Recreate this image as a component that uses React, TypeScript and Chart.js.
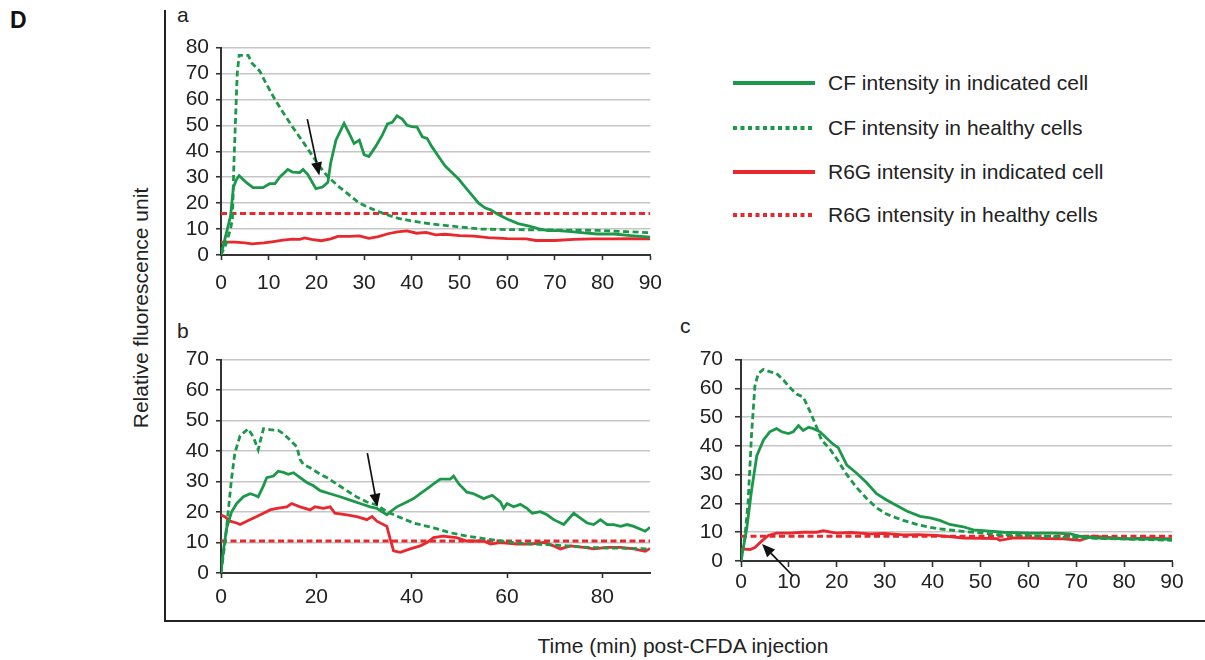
import React, { useEffect, useRef } from "react";
import { Chart, registerables } from "chart.js";

Chart.register(...registerables);

const FONT = "'Liberation Sans', Arial, Helvetica, sans-serif";
const GREEN = "#1c984a";
const RED = "#e8282e";
const INK = "#222222";

// ---------- Panel a ----------
const aCfCellT = [0, 1.2, 2, 2.6, 3.2, 3.8, 5.3, 6.7, 8.8, 10.2, 11.3, 12.3, 14, 15, 16.5, 17.2, 18.2, 19.9, 21.3, 22.4, 23, 24.1, 25.8, 26.9, 27.9, 29, 30, 31, 32.4, 33.8, 34.9, 35.9, 36.9, 38, 39, 40, 41.1, 42.2, 43.2, 44.2, 45.6, 47, 48.4, 49.8, 51.2, 52.6, 54, 55.4, 56.4, 58.1, 60.2, 62.3, 64.4, 66.5, 68.5, 70.6, 73.4, 76.1, 78.9, 82.4, 85.9, 90];
const aCfCellV = [0, 9, 15, 26, 29, 30.6, 28, 26, 26, 27.5, 27.5, 30, 33, 32, 31.8, 33, 31, 25.6, 26.2, 28, 35.6, 44.3, 50.8, 46.8, 43, 44.3, 38.7, 38, 41.8, 46.2, 50.6, 51.2, 53.7, 52.4, 50, 49.5, 49.3, 45.6, 45, 41.8, 38, 34.3, 31.8, 29.3, 26.2, 23.1, 20, 18.1, 17.5, 15.6, 13.7, 12.1, 11.2, 10.2, 9.4, 9.4, 9, 8.5, 8.1, 8.1, 7.5, 6.9];
const aCfHealthyT = [0, 1, 2, 2.4, 2.7, 3, 3.4, 3.8, 5.7, 6.5, 8.1, 9.5, 11.3, 13, 15, 17.8, 20.6, 22.5, 24.8, 27, 29, 32, 34.5, 37, 40, 44, 49, 54.6, 60, 66.5, 72, 79, 85, 90];
const aCfHealthyV = [0, 4, 10, 14, 35, 50, 70, 77, 77, 74, 71, 66, 60, 55, 49.4, 42, 34.4, 30, 26.2, 23, 20, 17.5, 15.7, 14.2, 13.1, 12, 11, 10, 9.8, 9.7, 9.6, 9.5, 9, 8.6];
const aR6gCellT = [0, 3, 5, 6.5, 9, 11, 13, 15, 16.5, 17.5, 19, 21, 23, 24.5, 27, 29, 31, 33, 35, 37, 39, 41, 43, 45, 47, 50, 53, 56, 60, 64, 66, 70, 74, 78, 82, 86, 90];
const aR6gCellV = [5, 5, 4.7, 4.3, 4.7, 5.2, 5.7, 6.1, 6, 6.6, 6, 5.5, 6.2, 7.2, 7.2, 7.4, 6.4, 7.1, 8.2, 8.9, 9.3, 8.4, 8.7, 7.8, 8, 7.5, 7.3, 6.7, 6.3, 6.2, 5.6, 5.6, 6, 6.2, 6.2, 6.3, 6.2];
const aR6gHealthyT = [0, 90];
const aR6gHealthyV = [16, 16];

// ---------- Panel b ----------
const bCfCellT = [0, 0.5, 1.2, 2.2, 3.3, 4.7, 6.1, 7.1, 7.8, 8.9, 9.6, 11, 12, 13.1, 14.1, 15.2, 16.6, 18, 19.4, 20.8, 22.9, 25, 27.1, 29.2, 31.3, 32.7, 33.8, 34.8, 35.5, 36.9, 39, 40.4, 41.8, 43.2, 44.6, 46, 48.1, 48.8, 49.9, 51.6, 53, 55.1, 56.9, 58.6, 59.3, 60, 61.4, 62.8, 64.2, 65.3, 67, 68.4, 69.8, 71.9, 74, 75.4, 76.8, 78.2, 79.6, 81, 82.4, 83.8, 85.2, 86.6, 89, 90];
const bCfCellV = [0, 7.3, 14.8, 20, 22.8, 25, 26, 25.5, 25, 28.6, 31.3, 31.8, 33.4, 33, 32.4, 32.9, 31.3, 29.7, 28.6, 27, 26, 25, 23.9, 22.8, 21.7, 21.2, 20.1, 19.1, 20.1, 21.7, 23.3, 24.4, 26, 27.6, 29.2, 30.8, 30.8, 31.8, 29.2, 26.5, 26, 24.4, 25.5, 23.3, 21.2, 22.8, 21.7, 22.5, 21.2, 19.6, 20.1, 19.1, 17.5, 15.9, 19.6, 18, 16.4, 15.9, 17.5, 15.9, 15.9, 15.3, 15.9, 15.3, 13.7, 15];
const bCfHealthyT = [0, 0.8, 1.5, 2.2, 2.9, 4, 5.7, 6.8, 7.8, 8.9, 10.3, 12, 13.1, 14.5, 15.9, 16.6, 17.3, 18.7, 20.8, 22.2, 24.3, 26.4, 28.5, 30.6, 32.7, 34.8, 37.6, 40.4, 44.6, 48.1, 51.6, 55.1, 58.6, 62.1, 65.6, 69.1, 72.6, 76.8, 81, 85.2, 90];
const bCfHealthyV = [0, 9.5, 20, 30.8, 39.3, 45, 47.3, 44.6, 40.4, 47.3, 47, 46.8, 45.7, 43.6, 41.4, 37.2, 35.6, 34.5, 32.4, 31.3, 29.2, 27, 24.9, 23.3, 22.3, 20.1, 18.2, 16.4, 14.8, 13.2, 12.1, 11.3, 10.5, 9.8, 9.5, 9.2, 8.9, 8.4, 8.2, 8.1, 7.9];
const bR6gCellT = [0, 0.8, 1.9, 3.3, 4, 5.4, 7.5, 8.9, 10.3, 11.7, 13.8, 14.8, 16.6, 18.7, 19.7, 21.5, 22.9, 23.9, 26.4, 28.5, 30.6, 31.7, 32.7, 34.8, 35.5, 36.2, 37.6, 39.7, 41.8, 43.2, 44.6, 46.6, 49.4, 51.6, 55.1, 56.5, 58.6, 62.1, 64.9, 67.7, 69.8, 71.2, 73.3, 76.1, 78.2, 81, 83.8, 86.6, 89, 90];
const bR6gCellV = [19, 18.5, 17, 16.4, 15.9, 17, 18.5, 19.6, 20.7, 21.2, 21.7, 22.8, 21.7, 20.7, 21.7, 21.2, 21.7, 19.6, 19.1, 18.5, 17.5, 18.5, 17, 15.3, 11.1, 7.3, 6.8, 7.9, 8.9, 10, 11.6, 12.1, 11.6, 10.5, 10.5, 9.5, 10, 9.5, 9.5, 10, 8.9, 7.9, 8.9, 8.4, 7.9, 8.4, 8.4, 7.9, 7.1, 8.1];
const bR6gHealthyT = [0, 90];
const bR6gHealthyV = [10.5, 10.5];

// ---------- Panel c ----------
const cCfCellT = [0, 1.2, 2.2, 3.3, 4.7, 6, 7.4, 8.5, 9.9, 10.9, 12, 13, 14.1, 15.1, 16.5, 17.9, 19.3, 20.3, 22.1, 24.1, 26.2, 28.3, 30.4, 32.5, 34.6, 37.4, 39.5, 41.5, 43.6, 46.4, 48.5, 51.3, 54.8, 60.4, 65.3, 68.8, 70.8, 74.3, 81.2, 90];
const cCfCellV = [0, 11.3, 24.5, 36.6, 42.1, 44.9, 46, 44.9, 44.3, 44.9, 47.1, 45.4, 46.5, 46, 44.9, 42.7, 40.5, 39.4, 33.3, 30.6, 27.3, 23.4, 21.2, 19.3, 17.4, 15.5, 15, 14.1, 12.7, 11.9, 10.8, 10.5, 10, 9.7, 9.7, 9.4, 8.6, 8, 7.7, 7.5];
const cCfHealthyT = [0, 0.8, 1.5, 2.2, 2.9, 3.6, 4.7, 6, 7.4, 8.8, 10.2, 11.6, 13, 14.4, 15.8, 16.8, 18.6, 20, 22.1, 24.1, 26.2, 28.3, 30.4, 33.9, 37.4, 40.8, 43, 46.4, 49.9, 53.4, 60.4, 67.3, 74.3, 81.2, 90];
const cCfHealthyV = [0, 8, 21, 44, 60.8, 65.2, 66.6, 65.8, 65.2, 63, 60.3, 58, 57, 52, 46.5, 42.1, 38.8, 35.5, 30, 25.6, 21.8, 18.5, 16.3, 14.1, 12.4, 11.3, 10.9, 10.3, 9.8, 9.2, 8.8, 8.3, 7.9, 7.6, 7.2];
const cR6gCellT = [0, 1.9, 2.9, 4.3, 5.7, 7.4, 10.2, 13, 15.8, 17.2, 20, 23, 26.9, 30, 33.9, 37, 40.8, 46.4, 53.4, 54, 57, 60.4, 64, 67.3, 70.8, 73.4, 78, 81.2, 85, 90];
const cR6gCellV = [4.2, 4, 4.7, 6.9, 8.9, 9.7, 9.7, 10, 10, 10.5, 9.7, 9.9, 9.4, 9.6, 9.1, 9.2, 8.9, 8, 7.8, 7.2, 8, 8, 7.8, 7.7, 7.2, 8.6, 8, 7.7, 8, 7.7];
const cR6gHealthyT = [0, 90];
const cR6gHealthyV = [8.6, 8.6];

// ---------- Axes / labels ----------
const aYTicksMax = 80;
const bYTicksMax = 70;
const cYTicksMax = 70;
const aXStep = 10;
const bXStep = 20;
const cXStep = 10;
const legendLabels = [
  "CF intensity in indicated cell",
  "CF intensity in healthy cells",
  "R6G intensity in indicated cell",
  "R6G intensity in healthy cells",
];
const legendColors = [GREEN, GREEN, RED, RED];
const legendDotted = [false, true, false, true];
const yTitle = "Relative fluorescence unit";
const xTitle = "Time (min) post-CFDA injection";

// arrows: [fromT, fromV, toT, toV] in data units
const arrowA = [18.1, 52.4, 20.6, 30.7];
const arrowB = [30.7, 39.3, 32.8, 21.7];
const arrowC = [10.9, -5.3, 4.4, 5.9];

const arrowPlugin = {
  id: "arrows",
  afterDatasetsDraw(chart: any, _args: any, opts: any) {
    const items: number[][] = (opts && opts.items) || [];
    const { ctx } = chart;
    const xs = chart.scales.x;
    const ys = chart.scales.y;
    ctx.save();
    for (const a of items) {
      const x1 = xs.getPixelForValue(a[0]);
      const y1 = ys.getPixelForValue(a[1]);
      const x2 = xs.getPixelForValue(a[2]);
      const y2 = ys.getPixelForValue(a[3]);
      const ang = Math.atan2(y2 - y1, x2 - x1);
      const head = 13;
      const half = 5.5;
      const bx = x2 - head * Math.cos(ang);
      const by = y2 - head * Math.sin(ang);
      ctx.strokeStyle = "#111";
      ctx.lineWidth = 1.7;
      ctx.setLineDash([]);
      ctx.beginPath();
      ctx.moveTo(x1, y1);
      ctx.lineTo(bx, by);
      ctx.stroke();
      ctx.fillStyle = "#111";
      ctx.beginPath();
      ctx.moveTo(x2, y2);
      ctx.lineTo(bx + half * Math.sin(ang), by - half * Math.cos(ang));
      ctx.lineTo(bx - half * Math.sin(ang), by + half * Math.cos(ang));
      ctx.closePath();
      ctx.fill();
    }
    ctx.restore();
  },
};

type Series = { t: number[]; v: number[]; color: string; dashed: boolean };

type PanelSpec = {
  left: number;
  top: number;
  width: number;
  height: number;
  yMax: number;
  xStep: number;
  includeBounds: boolean;
  xPad: number;
  yPad: number;
  tickLen: number;
  series: Series[];
  arrow: number[];
};

const Y_AXIS_W = 45;
const X_AXIS_H = 40;
const PAD_TOP = 14;
const PAD_RIGHT = 20;

function Panel({ spec }: { spec: PanelSpec }) {
  const ref = useRef<HTMLCanvasElement | null>(null);
  useEffect(() => {
    if (!ref.current) return;
    const datasets = spec.series.map((s) => ({
      data: s.t.map((x, i) => ({ x, y: s.v[i] })),
      borderColor: s.color,
      backgroundColor: s.color,
      borderWidth: 2.8,
      borderDash: s.dashed ? [6, 3.5] : [],
      pointRadius: 0,
      tension: 0,
      fill: false,
    }));
    const tickFont = { family: FONT, size: 21 };
    const chart = new Chart(ref.current, {
      type: "line",
      data: { datasets },
      plugins: [arrowPlugin],
      options: {
        animation: false,
        responsive: false,
        maintainAspectRatio: false,
        layout: { padding: { top: PAD_TOP, right: PAD_RIGHT, left: 0, bottom: 0 } },
        plugins: {
          legend: { display: false },
          tooltip: { enabled: false },
          arrows: { items: [spec.arrow] },
        } as any,
        scales: {
          x: {
            type: "linear",
            min: 0,
            max: 90,
            ticks: {
              stepSize: spec.xStep,
              includeBounds: spec.includeBounds,
              autoSkip: false,
              maxRotation: 0,
              padding: spec.xPad,
              color: INK,
              font: tickFont,
            },
            grid: {
              display: true,
              drawOnChartArea: false,
              drawTicks: true,
              tickLength: spec.tickLen,
              tickColor: "#333",
              tickWidth: 1.6,
            },
            border: { display: true, color: "#333", width: 2 },
            afterFit: (s: any) => {
              s.height = X_AXIS_H;
            },
          },
          y: {
            type: "linear",
            min: 0,
            max: spec.yMax,
            ticks: {
              stepSize: 10,
              autoSkip: false,
              padding: spec.yPad,
              color: INK,
              font: tickFont,
            },
            grid: {
              color: "#c6c6c6",
              lineWidth: 1.5,
              drawTicks: true,
              tickLength: spec.tickLen,
              tickColor: "#333",
              tickWidth: 1.6,
            },
            border: { display: true, color: "#333", width: 2 },
            afterFit: (s: any) => {
              s.width = Y_AXIS_W;
            },
          },
        },
      } as any,
    });
    return () => chart.destroy();
  }, [spec]);
  return (
    <canvas
      ref={ref}
      width={spec.width}
      height={spec.height}
      style={{
        position: "absolute",
        left: spec.left,
        top: spec.top,
        width: spec.width,
        height: spec.height,
      }}
    />
  );
}

function makeSpec(
  areaLeft: number,
  areaTop: number,
  areaRight: number,
  areaBottom: number,
  yMax: number,
  xStep: number,
  includeBounds: boolean,
  xPad: number,
  yPad: number,
  tickLen: number,
  series: Series[],
  arrow: number[]
): PanelSpec {
  return {
    left: areaLeft - Y_AXIS_W,
    top: areaTop - PAD_TOP,
    width: Y_AXIS_W + (areaRight - areaLeft) + PAD_RIGHT,
    height: PAD_TOP + (areaBottom - areaTop) + X_AXIS_H,
    yMax,
    xStep,
    includeBounds,
    xPad,
    yPad,
    tickLen,
    series,
    arrow,
  };
}

const specA = makeSpec(221, 42, 653, 255, aYTicksMax, aXStep, true, 11, 7, 5, [
  { t: aCfCellT, v: aCfCellV, color: GREEN, dashed: false },
  { t: aCfHealthyT, v: aCfHealthyV, color: GREEN, dashed: true },
  { t: aR6gCellT, v: aR6gCellV, color: RED, dashed: false },
  { t: aR6gHealthyT, v: aR6gHealthyV, color: RED, dashed: true },
], arrowA);

const specB = makeSpec(221, 354, 650, 573, bYTicksMax, bXStep, false, 7, 7, 5, [
  { t: bCfCellT, v: bCfCellV, color: GREEN, dashed: false },
  { t: bCfHealthyT, v: bCfHealthyV, color: GREEN, dashed: true },
  { t: bR6gCellT, v: bR6gCellV, color: RED, dashed: false },
  { t: bR6gHealthyT, v: bR6gHealthyV, color: RED, dashed: true },
], arrowB);

const specC = makeSpec(741, 349, 1172, 561, cYTicksMax, cXStep, true, 3, 12, 6, [
  { t: cCfCellT, v: cCfCellV, color: GREEN, dashed: false },
  { t: cCfHealthyT, v: cCfHealthyV, color: GREEN, dashed: true },
  { t: cR6gCellT, v: cR6gCellV, color: RED, dashed: false },
  { t: cR6gHealthyT, v: cR6gHealthyV, color: RED, dashed: true },
], arrowC);

const legendCenters = [83, 128, 171.5, 215];

export default function App() {
  const text: React.CSSProperties = {
    position: "absolute",
    fontFamily: FONT,
    fontSize: 21,
    lineHeight: "21px",
    color: INK,
    whiteSpace: "nowrap",
  };
  return (
    <div
      style={{
        position: "absolute",
        left: 0,
        top: 0,
        width: 1205,
        height: 660,
        background: "#ffffff",
        overflow: "hidden",
        fontFamily: FONT,
      }}
    >
      <div style={{ ...text, left: 10, top: 8, fontWeight: "bold", fontSize: 23, lineHeight: "24px", color: "#111" }}>D</div>
      <div style={{ position: "absolute", left: 164, top: 10, width: 2, height: 612, background: INK }} />
      <div style={{ position: "absolute", left: 164, top: 620, width: 1041, height: 2, background: INK }} />
      <div style={{ ...text, left: 177, top: 4 }}>a</div>
      <div style={{ ...text, left: 177, top: 320 }}>b</div>
      <div style={{ ...text, left: 680, top: 315 }}>c</div>
      <div
        style={{
          ...text,
          left: 141 - 200,
          top: 308 - 15,
          width: 400,
          height: 30,
          lineHeight: "30px",
          textAlign: "center",
          transform: "rotate(-90deg)",
        }}
      >
        {yTitle}
      </div>
      <div style={{ ...text, left: 383, top: 635, width: 600, textAlign: "center" }}>{xTitle}</div>
      {legendLabels.map((lab, i) => (
        <div
          key={lab}
          style={{
            position: "absolute",
            left: 733,
            top: legendCenters[i] - 15,
            height: 30,
            display: "flex",
            alignItems: "center",
          }}
        >
          <svg width={82} height={6} style={{ display: "block" }}>
            <line
              x1={0}
              y1={3}
              x2={82}
              y2={3}
              stroke={legendColors[i]}
              strokeWidth={4}
              strokeDasharray={legendDotted[i] ? "4 3.5" : undefined}
            />
          </svg>
          <span
            style={{
              marginLeft: 13,
              fontFamily: FONT,
              fontSize: 21,
              lineHeight: "30px",
              color: INK,
              whiteSpace: "nowrap",
            }}
          >
            {lab}
          </span>
        </div>
      ))}
      <Panel spec={specA} />
      <Panel spec={specB} />
      <Panel spec={specC} />
    </div>
  );
}
